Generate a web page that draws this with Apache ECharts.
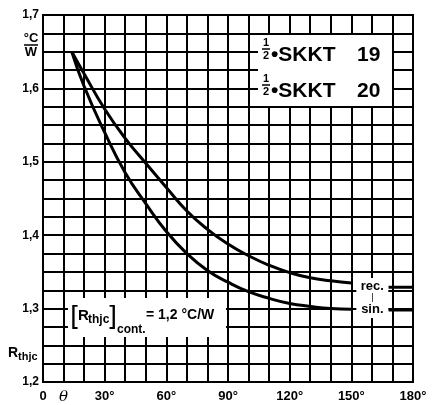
<!DOCTYPE html>
<html>
<head>
<meta charset="utf-8">
<script src="https://cdn.jsdelivr.net/npm/echarts@6/dist/echarts.min.js"></script>
<style>
  html, body { margin: 0; padding: 0; background: #fff; }
  #chart { width: 439px; height: 405px; }
</style>
</head>
<body>
<div id="chart"></div>
<script>
// conduction angle (deg) vs. thermal resistance junction-case (degC/W)
const angleRec = [14, 20, 30, 40, 50, 60, 70, 80, 90, 100, 110, 120, 130, 140, 150];
const rthRec = [1.650, 1.620, 1.572, 1.532, 1.498, 1.465, 1.433, 1.408, 1.388, 1.372, 1.359, 1.349, 1.342, 1.338, 1.335];

const angleSin = [14, 20, 30, 40, 50, 60, 70, 80, 90, 100, 110, 120, 130, 140, 150];
const rthSin = [1.650, 1.603, 1.540, 1.485, 1.443, 1.405, 1.375, 1.352, 1.336, 1.323, 1.314, 1.307, 1.303, 1.300, 1.299];

// short continuation of both curves right of the label
const angleTail = [168, 180];
const rthRecTail = [1.329, 1.329];
const rthSinTail = [1.298, 1.298];

const xLabelAt = [0, 10, 30, 60, 90, 120, 150, 180];
const xLabelText = ['0', '{i|θ}', '30°', '60°', '90°', '120°', '150°', '180°'];
const yLabelAt = [1.2, 1.3, 1.4, 1.5, 1.6, 1.7];
const yLabelText = ['1,2', '1,3', '1,4', '1,5', '1,6', '1,7'];

function pairs(xs, ys) {
  return xs.map((x, i) => [x, ys[i]]);
}

function lookup(at, text, v) {
  const i = at.findIndex(a => Math.abs(a - v) < 1e-6);
  return i < 0 ? '' : text[i];
}

const FONT = 'Liberation Sans';
const curve = { color: '#000', width: 3 };

function txt(text, x, y, size, opts) {
  return {
    type: 'text',
    z: 100,
    style: Object.assign({
      text: text,
      x: x,
      y: y,
      fill: '#000',
      font: 'bold ' + size + 'px "' + FONT + '"',
      textAlign: 'left',
      textVerticalAlign: 'middle'
    }, opts || {})
  };
}

function bar(x1, x2, y) {
  return {
    type: 'line', z: 100,
    shape: { x1: x1, y1: y, x2: x2, y2: y },
    style: { stroke: '#000', lineWidth: 1.5 }
  };
}

function rect(x, y, w, h) {
  return { type: 'rect', z: 99, shape: { x: x, y: y, width: w, height: h }, style: { fill: '#fff' } };
}

const option = {
  backgroundColor: '#fff',
  animation: false,
  textStyle: { fontFamily: FONT },
  grid: { left: 43, right: 26, top: 15, bottom: 22, show: true, borderColor: '#000', borderWidth: 2 },
  xAxis: {
    type: 'value',
    min: 0, max: 180, interval: 10,
    axisLine: { show: true, lineStyle: { color: '#000', width: 2 } },
    axisTick: { show: false },
    splitLine: { show: true, lineStyle: { color: '#000', width: 2 } },
    axisLabel: {
      color: '#000', fontSize: 13, fontWeight: 'bold', margin: 8,
      showMinLabel: true, showMaxLabel: true,
      formatter: v => lookup(xLabelAt, xLabelText, v),
      rich: { i: { fontStyle: 'italic', fontWeight: 'normal', fontSize: 15, fontFamily: 'DejaVu Serif' } }
    }
  },
  yAxis: {
    type: 'value',
    min: 1.2, max: 1.7, interval: 0.025,
    axisLine: { show: true, lineStyle: { color: '#000', width: 2 } },
    axisTick: { show: false },
    splitLine: { show: true, lineStyle: { color: '#000', width: 2 } },
    axisLabel: {
      color: '#000', fontSize: 12, fontWeight: 'bold', margin: 4,
      showMinLabel: true, showMaxLabel: true,
      formatter: v => lookup(yLabelAt, yLabelText, v)
    }
  },
  series: [
    {
      type: 'line', name: 'rec.', data: pairs(angleRec, rthRec),
      showSymbol: false, smooth: 0.5, lineStyle: curve, z: 3,
      endLabel: {
        show: true,
        distance: 5,
        offset: [0, 15],
        backgroundColor: '#fff',
        padding: [2, 2],
        formatter: '{a|rec.}\n{b||}\n{a|sin.}',
        rich: {
          a: { width: 28, align: 'center', fontSize: 13, fontWeight: 'bold', lineHeight: 13, color: '#000' },
          b: { width: 28, align: 'center', fontSize: 9, lineHeight: 10, color: '#000' }
        }
      }
    },
    {
      type: 'line', name: 'sin.', data: pairs(angleSin, rthSin),
      showSymbol: false, smooth: 0.5, lineStyle: curve, z: 2
    },
    {
      type: 'line', name: 'rec. tail', data: pairs(angleTail, rthRecTail),
      showSymbol: false, lineStyle: curve, z: 2
    },
    {
      type: 'line', name: 'sin. tail', data: pairs(angleTail, rthSinTail),
      showSymbol: false, lineStyle: curve, z: 2
    }
  ],
  graphic: [
    // type designation box
    rect(258, 35, 134, 71),
    txt('1', 266, 43, 11, { textAlign: 'center' }),
    bar(262, 270, 49),
    txt('2', 266, 56, 11, { textAlign: 'center' }),
    txt('•SKKT', 271, 55, 21),
    txt('19', 357, 55, 21),
    txt('1', 266, 79, 11, { textAlign: 'center' }),
    bar(262, 270, 85),
    txt('2', 266, 92, 11, { textAlign: 'center' }),
    txt('•SKKT', 271, 91, 21),
    txt('20', 357, 91, 21),

    // continuous thermal resistance note
    rect(68, 298, 158, 39),
    txt('[', 70, 318, 26, { font: '26px "DejaVu Sans"' }),
    txt('R', 78, 316, 15),
    txt('thjc', 88, 320, 12),
    txt(']', 107, 318, 26, { font: '26px "DejaVu Sans"' }),
    txt('cont.', 117, 330, 12),
    txt('= 1,2 °C/W', 146, 315, 14),

    // axis unit and quantity
    txt('°C', 31, 38, 13, { textAlign: 'center' }),
    bar(24, 38, 45),
    txt('W', 31, 52, 13, { textAlign: 'center' }),
    txt('R', 8, 353, 14),
    txt('thjc', 18, 357, 11)
  ]
};

const chart = echarts.init(document.getElementById('chart'));
chart.setOption(option);
</script>
</body>
</html>
